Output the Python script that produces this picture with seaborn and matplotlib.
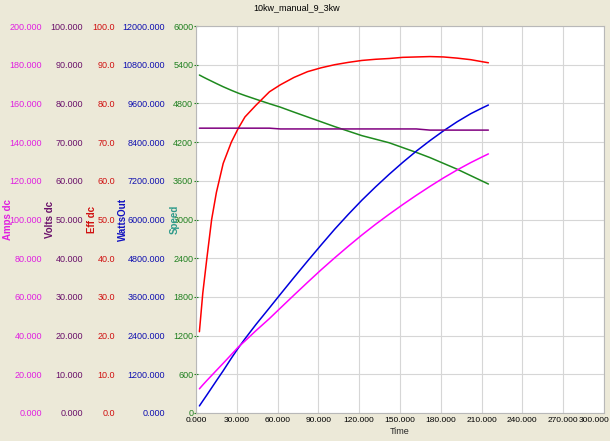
import matplotlib
matplotlib.use("Agg")
import matplotlib.pyplot as plt
from matplotlib.ticker import FormatStrFormatter, FuncFormatter, MultipleLocator
import pandas as pd
import seaborn as sns

# ---- data ----
time = [2.5, 5, 8, 11.5, 15, 20, 26, 31, 36, 44, 54, 62, 72, 82, 92, 102,
        112, 122, 132, 142, 152, 162, 172, 182, 192, 202, 210, 215]

amps_dc = [12.5, 14.5, 16.8, 19.4, 22.0, 25.7, 30.2, 34.0, 37.2, 42.5, 48.8,
           54.2, 60.9, 67.5, 74.0, 80.2, 86.2, 92.0, 97.5, 102.7, 107.7,
           112.5, 117.1, 121.5, 125.6, 129.4, 132.2, 133.9]

volts_dc = [73.6, 73.6, 73.6, 73.6, 73.6, 73.6, 73.6, 73.6, 73.6, 73.6, 73.6,
            73.4, 73.4, 73.4, 73.4, 73.4, 73.4, 73.4, 73.4, 73.4, 73.4,
            73.4, 73.1, 73.1, 73.1, 73.1, 73.1, 73.1]

eff_dc = [21.0, 31.0, 40.0, 50.0, 57.0, 64.5, 70.0, 73.5, 76.5, 79.5, 83.0,
          84.8, 86.7, 88.2, 89.2, 90.0, 90.6, 91.1, 91.4, 91.6, 91.9,
          92.0, 92.1, 92.0, 91.7, 91.3, 90.8, 90.5]

watts_out = [220, 375, 560, 780, 1000, 1310, 1700, 2010, 2300, 2740, 3260,
             3680, 4200, 4710, 5210, 5700, 6160, 6600, 7010, 7400, 7770,
             8120, 8445, 8750, 9030, 9280, 9450, 9550]

speed = [5240, 5212, 5180, 5144, 5108, 5058, 5003, 4960, 4922, 4865, 4795,
         4742, 4665, 4590, 4515, 4440, 4370, 4300, 4245, 4190, 4115,
         4040, 3960, 3870, 3780, 3680, 3600, 3550]

T_MAX = 300

df = pd.DataFrame({"Time": time, "Amps dc": amps_dc, "Volts dc": volts_dc,
                   "Eff dc": eff_dc, "WattsOut": watts_out, "Speed": speed})

sns.set_style("white")
plt.rcParams["font.family"] = ["Liberation Sans", "DejaVu Sans"]

BG = "#ECE9D8"
GRID = "#D6D6D6"
TICK_FS = 6.5
XTICK_FS = 6.0

fig = plt.figure(figsize=(6.10, 4.41), dpi=100, facecolor=BG)
ax = fig.add_axes([196 / 610, 28 / 441, 408 / 610, 387 / 441])
ax.set_facecolor("white")

# (column, ylim, step, fmt, tick colour, line colour, label colour, pad pt, label x)
axes_spec = [
    ("WattsOut", 12000, 1200, "%.3f", "#1010B0", "#0000DD", "#1010C0", 22.3, -0.179),
    ("Eff dc", 100, 10, "%.1f", "#D01010", "#FF0000", "#D01010", 58.3, -0.255),
    ("Volts dc", 100, 10, "%.3f", "#6A106A", "#800080", "#6A106A", 81.4, -0.358),
    ("Amps dc", 200, 20, "%.3f", "#E020E0", "#FF00FF", "#E020E0", 110.9, -0.461),
]

# primary axis: Speed
sns.lineplot(data=df, x="Time", y="Speed", ax=ax, color="#1E8A1E", lw=1.1)
ax.set_ylim(0, 6000)
ax.set_xlim(0, T_MAX)
ax.yaxis.set_major_locator(MultipleLocator(600))
ax.xaxis.set_major_locator(MultipleLocator(30))
ax.yaxis.set_major_formatter(FormatStrFormatter("%d"))
# last label is drawn separately so it can sit flush with the right edge
ax.xaxis.set_major_formatter(
    FuncFormatter(lambda v, p: "" if v >= T_MAX else f"{v:.3f}"))
ax.grid(True, color=GRID, lw=0.8)
ax.tick_params(axis="y", direction="inout", length=3, pad=0.5,
               labelsize=TICK_FS, colors="#208020")
ax.tick_params(axis="x", direction="out", length=2.5, pad=0.5,
               labelsize=XTICK_FS, color="#A0A0A0", labelcolor="black")
for s in ax.spines.values():
    s.set_color("#B8B8B8")
    s.set_linewidth(0.8)
ax.annotate(f"{T_MAX:.3f}", xy=(T_MAX, 0), xycoords=("data", "axes fraction"),
            xytext=(3.6, -3), textcoords="offset points", ha="right", va="top",
            fontsize=XTICK_FS, color="black")
ax.set_xlabel("Time", fontsize=6.5, labelpad=2)
ax.set_ylabel("Speed", fontsize=7, fontweight="bold", color="#2E9A8A")
ax.yaxis.set_label_coords(-0.0515, 0.5)
ax.yaxis.label.set_va("center")

for col, top, step, fmt, tcol, lcol, labcol, pad, lx in axes_spec:
    tw = ax.twinx()
    sns.lineplot(data=df, x="Time", y=col, ax=tw, color=lcol, lw=1.1)
    tw.set_ylim(0, top)
    tw.yaxis.set_major_locator(MultipleLocator(step))
    tw.yaxis.set_major_formatter(FormatStrFormatter(fmt))
    tw.yaxis.tick_left()
    tw.yaxis.set_label_position("left")
    for s in tw.spines.values():
        s.set_visible(False)
    tw.tick_params(axis="y", length=0, pad=pad, labelsize=TICK_FS, colors=tcol)
    tw.set_ylabel(col, fontsize=7, fontweight="bold", color=labcol)
    tw.yaxis.set_label_coords(lx, 0.5)
    tw.yaxis.label.set_va("center")
    tw.set_xlim(0, T_MAX)

fig.text(297 / 610, 1 - 8 / 441, "10kw_manual_9_3kw", ha="center", va="center",
         fontsize=6.5, color="black")

fig.savefig("out.png", dpi=100, facecolor=BG)
